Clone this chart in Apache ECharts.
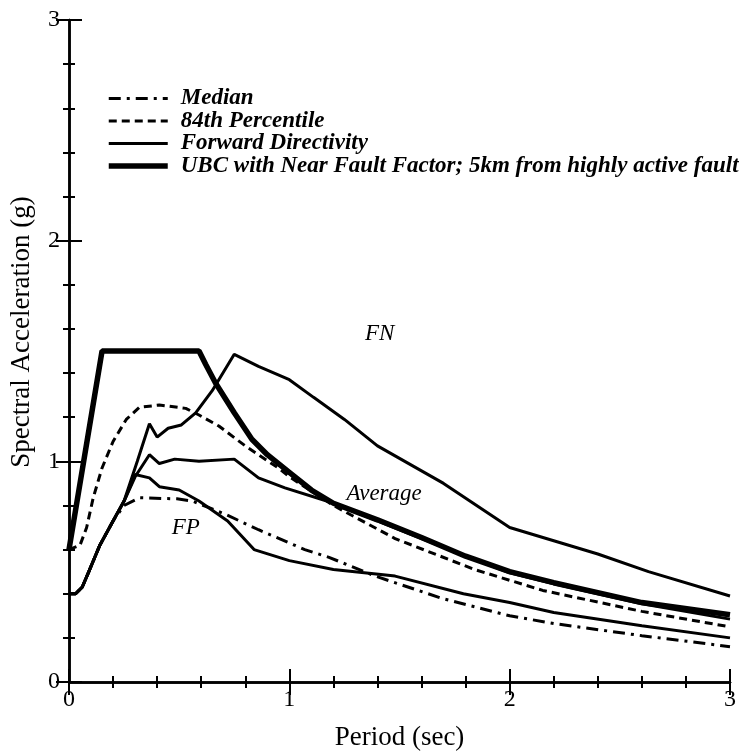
<!DOCTYPE html>
<html>
<head>
<meta charset="utf-8">
<script src="https://cdn.jsdelivr.net/npm/echarts@6/dist/echarts.min.js"></script>
<style>html,body{margin:0;padding:0;background:#fff}#c{width:739px;height:756px}</style>
</head>
<body>
<div id="c"></div>
<script>
// Period (sec) and spectral acceleration (g)
var medianT  = [0, 0.03, 0.06, 0.09, 0.14, 0.2, 0.25, 0.32, 0.49, 0.56, 0.71, 0.86, 1.07, 1.18, 1.39, 1.69, 2.0, 2.2, 2.6, 3.0];
var medianSa = [0.40, 0.40, 0.43, 0.50, 0.62, 0.73, 0.80, 0.835, 0.83, 0.82, 0.76, 0.69, 0.60, 0.565, 0.48, 0.38, 0.30, 0.265, 0.21, 0.16];

var p84T  = [0, 0.05, 0.08, 0.11, 0.15, 0.2, 0.26, 0.32, 0.41, 0.53, 0.59, 0.68, 0.8, 0.95, 1.0, 1.2, 1.48, 1.84, 2.15, 2.6, 3.0];
var p84Sa = [0.60, 0.62, 0.70, 0.835, 0.97, 1.09, 1.19, 1.245, 1.255, 1.24, 1.21, 1.16, 1.07, 0.97, 0.93, 0.80, 0.65, 0.51, 0.415, 0.32, 0.25];

var fnT  = [0, 0.03, 0.06, 0.09, 0.14, 0.2, 0.25, 0.31, 0.365, 0.40, 0.45, 0.51, 0.575, 0.65, 0.75, 0.86, 1.0, 1.11, 1.25, 1.4, 1.7, 2.0, 2.2, 2.4, 2.63, 3.0];
var fnSa = [0.40, 0.40, 0.43, 0.50, 0.62, 0.73, 0.82, 1.00, 1.17, 1.11, 1.15, 1.165, 1.22, 1.32, 1.485, 1.43, 1.37, 1.29, 1.19, 1.07, 0.90, 0.70, 0.64, 0.58, 0.50, 0.39];

var avgT  = [0, 0.03, 0.06, 0.09, 0.14, 0.2, 0.25, 0.30, 0.365, 0.41, 0.48, 0.59, 0.75, 0.86, 0.98, 1.17, 1.3, 1.4, 1.6, 1.8, 2.0, 2.2, 2.6, 3.0];
var avgSa = [0.40, 0.40, 0.43, 0.50, 0.62, 0.73, 0.82, 0.93, 1.03, 0.99, 1.01, 1.00, 1.01, 0.925, 0.88, 0.82, 0.77, 0.73, 0.65, 0.57, 0.495, 0.445, 0.355, 0.285];

var fpT  = [0, 0.03, 0.06, 0.09, 0.14, 0.2, 0.25, 0.30, 0.365, 0.41, 0.5, 0.59, 0.72, 0.84, 1.0, 1.2, 1.48, 1.79, 2.0, 2.2, 2.6, 3.0];
var fpSa = [0.40, 0.40, 0.43, 0.50, 0.62, 0.73, 0.82, 0.94, 0.925, 0.885, 0.87, 0.82, 0.73, 0.60, 0.55, 0.51, 0.48, 0.40, 0.36, 0.315, 0.255, 0.20];

var ubcT  = [0, 0.15, 0.59, 0.62, 0.665, 0.75, 0.83, 0.9, 1.0, 1.1, 1.2, 1.4, 1.6, 1.8, 2.0, 2.2, 2.6, 3.0];
var ubcSa = [0.60, 1.50, 1.50, 1.44, 1.355, 1.22, 1.10, 1.03, 0.95, 0.87, 0.81, 0.735, 0.655, 0.57, 0.50, 0.45, 0.36, 0.305];

var xTicks = [0, 1, 2, 3];
var yTicks = [0, 1, 2, 3];

var legendNames = ['Median', '84th Percentile', 'Forward Directivity', 'UBC with Near Fault Factor; 5km from highly active fault'];
var curveLabels = [
  {text: 'FN', at: [1.41, 1.575]},
  {text: 'Average', at: [1.43, 0.85]},
  {text: 'FP', at: [0.53, 0.70]}
];

function pairs(t, s) { return t.map(function (v, i) { return [v, s[i]]; }); }

var serif = '"Liberation Serif", "DejaVu Serif", serif';
var lineW = 3, ubcW = 5.5;
var medianDash = [12, 6, 3, 6], p84Dash = [8, 5];

var tickCommon = {
  axisLine: {show: true, lineStyle: {color: '#000', width: 2.5}},
  axisTick: {show: true, inside: true, length: 13, lineStyle: {color: '#000', width: 2}},
  minorTick: {show: true, splitNumber: 5, length: 6, lineStyle: {color: '#000', width: 2}},
  splitLine: {show: false},
  minorSplitLine: {show: false}
};

function axis(pos, showLabel, name, isY) {
  var a = Object.assign({
    type: 'value', min: 0, max: 3, interval: 1, position: pos,
    axisLabel: {show: showLabel, color: '#000', fontFamily: serif, fontSize: 24, margin: isY ? 9 : 6}
  }, tickCommon);
  if (name) {
    a.name = name;
    a.nameLocation = 'middle';
    a.nameTextStyle = {color: '#000', fontFamily: serif, fontSize: 27,
      padding: isY ? [0, 0, 0, 38] : [0, 0, 0, 0]};
    a.nameGap = isY ? 34 : 42;
  }
  return a;
}

var markLabelStyle = {color: '#000', fontFamily: serif, fontStyle: 'italic', fontSize: 23};

var chart = echarts.init(document.getElementById('c'), null, {renderer: 'canvas'});
chart.setOption({
  backgroundColor: '#fff',
  animation: false,
  grid: {left: 68, right: 1, top: 20, bottom: 71, containLabel: false},
  xAxis: [axis('bottom', true, 'Period (sec)', false), axis('top', false, null, false)],
  yAxis: [axis('left', true, 'Spectral Acceleration (g)', true), axis('right', false, null, true)],
  legend: {
    data: [
      {name: legendNames[0], lineStyle: {width: lineW, type: medianDash}},
      {name: legendNames[1], lineStyle: {width: lineW, type: p84Dash}},
      {name: legendNames[2], lineStyle: {width: lineW}},
      {name: legendNames[3], lineStyle: {width: ubcW}}
    ],
    orient: 'vertical',
    left: 101, top: 82,
    itemWidth: 59, itemHeight: 12, itemGap: -0.5,
    itemStyle: {opacity: 0},
    textStyle: {color: '#000', fontFamily: serif, fontStyle: 'italic', fontWeight: 'bold', fontSize: 23, padding: [0, 0, 0, 8]},
    selectedMode: false
  },
  series: [
    {name: legendNames[0], type: 'line', data: pairs(medianT, medianSa), showSymbol: false, symbol: 'none',
     itemStyle: {color: '#000'}, lineStyle: {color: '#000', width: lineW, type: medianDash}, z: 3},
    {name: legendNames[1], type: 'line', data: pairs(p84T, p84Sa), showSymbol: false, symbol: 'none',
     itemStyle: {color: '#000'}, lineStyle: {color: '#000', width: lineW, type: p84Dash}, z: 3},
    {name: legendNames[2], type: 'line', data: pairs(fnT, fnSa), showSymbol: false, symbol: 'none',
     itemStyle: {color: '#000'}, lineStyle: {color: '#000', width: lineW}, z: 3,
     markPoint: {symbol: 'circle', symbolSize: 0, silent: true,
       label: Object.assign({show: true, position: 'inside', formatter: '{b}'}, markLabelStyle),
       data: curveLabels.map(function (c) { return {name: c.text, coord: c.at}; })}},
    {name: legendNames[2], type: 'line', data: pairs(avgT, avgSa), showSymbol: false, symbol: 'none',
     itemStyle: {color: '#000'}, lineStyle: {color: '#000', width: lineW}, z: 3},
    {name: legendNames[2], type: 'line', data: pairs(fpT, fpSa), showSymbol: false, symbol: 'none',
     itemStyle: {color: '#000'}, lineStyle: {color: '#000', width: lineW}, z: 3},
    {name: legendNames[3], type: 'line', data: pairs(ubcT, ubcSa), showSymbol: false, symbol: 'none',
     itemStyle: {color: '#000'}, lineStyle: {color: '#000', width: ubcW}, z: 4}
  ]
});
</script>
</body>
</html>
